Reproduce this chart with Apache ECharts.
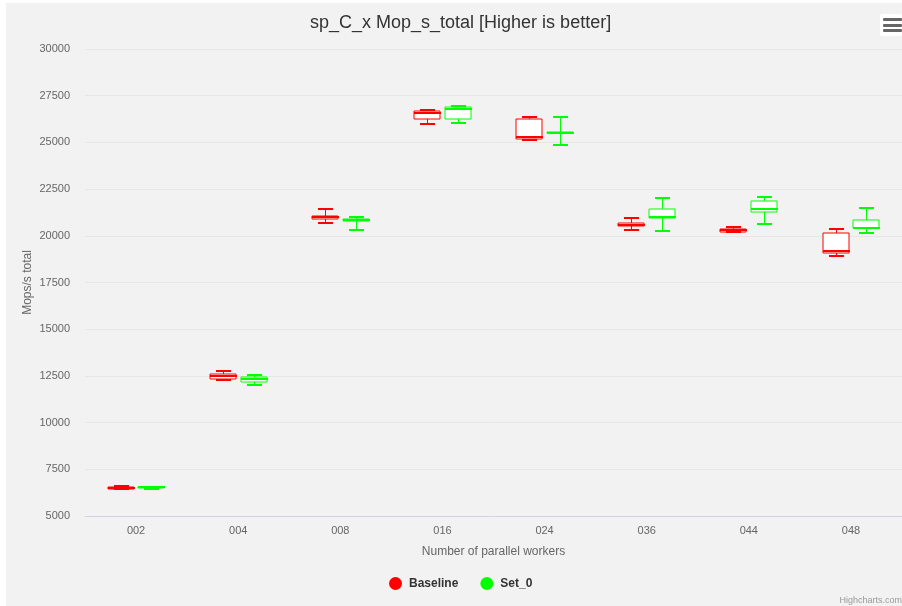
<!DOCTYPE html>
<html>
<head>
<meta charset="utf-8">
<script src="https://cdn.jsdelivr.net/npm/echarts@6/dist/echarts.min.js"></script>
<style>
html,body{margin:0;padding:0;background:#ffffff;}
#bg{position:absolute;left:6px;top:3px;width:896px;height:603px;background:#f2f2f2;}
#chart{position:absolute;left:0;top:0;width:902px;height:606px;}
</style>
</head>
<body>
<div id="bg"></div>
<div id="chart"></div>
<script>
// Data: [min, q1, median, q3, max]
const categories = ['002', '004', '008', '016', '024', '036', '044', '048'];
const baseline = [
  [6430, 6445, 6483, 6526, 6590],
  [12280, 12350, 12495, 12618, 12762],
  [20685, 20915, 20990, 21044, 21451],
  [25985, 26232, 26589, 26696, 26750],
  [25111, 25165, 25289, 26268, 26360],
  [20310, 20508, 20600, 20705, 20970],
  [20180, 20200, 20310, 20350, 20490],
  [18900, 19080, 19186, 20130, 20364]
];
const set0 = [
  [6456, 6499, 6536, 6563, 6570],
  [12030, 12157, 12334, 12441, 12548],
  [20310, 20777, 20830, 20884, 21010],
  [26039, 26232, 26788, 26911, 26964],
  [24861, 25486, 25520, 25556, 26375],
  [20257, 20940, 20990, 21420, 22040],
  [20650, 21260, 21435, 21845, 22094],
  [20150, 20400, 20436, 20830, 21506]
];
const yTicks = [5000, 30000, 2500]; // min, max, interval

const FONT = "'Liberation Sans', Arial, Helvetica, sans-serif";

function makeRender(color, offsetFrac) {
  return function (params, api) {
    const cat = api.value(0);
    const band = api.size([1, 0])[0];
    const cx = Math.round(api.coord([cat, 0])[0] + offsetFrac * band);
    const w = Math.round(band * 0.254);
    const hw = Math.round(w / 4);
    const y = function (i) { return Math.round(api.coord([cat, api.value(i)])[1]); };
    const yMin = y(1), yQ1 = y(2), yMed = y(3), yQ3 = y(4), yMax = y(5);
    const x0 = cx - Math.round(w / 2);
    const sx = cx + 0.5;
    return {
      type: 'group',
      children: [
        { type: 'line', shape: { x1: sx, y1: yMax, x2: sx, y2: yQ3 }, style: { stroke: color, lineWidth: 1 } },
        { type: 'line', shape: { x1: sx, y1: yQ1, x2: sx, y2: yMin }, style: { stroke: color, lineWidth: 1 } },
        { type: 'rect', shape: { x: x0, y: yQ3, width: w, height: Math.max(yQ1 - yQ3, 1) },
          style: { fill: '#ffffff', stroke: color, lineWidth: 1 } },
        { type: 'line', shape: { x1: x0, y1: yMed, x2: x0 + w + 1, y2: yMed }, style: { stroke: color, lineWidth: 2 } },
        { type: 'line', shape: { x1: cx - hw, y1: yMax, x2: cx + hw + 1, y2: yMax }, style: { stroke: color, lineWidth: 2 } },
        { type: 'line', shape: { x1: cx - hw, y1: yMin, x2: cx + hw + 1, y2: yMin }, style: { stroke: color, lineWidth: 2 } }
      ]
    };
  };
}

function toData(arr) {
  return arr.map(function (d, i) { return [i].concat(d); });
}

const chart = echarts.init(document.getElementById('chart'));
chart.setOption({
  animation: false,
  textStyle: { fontFamily: FONT },
  title: {
    text: 'sp_C_x Mop_s_total [Higher is better]',
    left: 305, top: 9,
    textStyle: { fontSize: 18, fontWeight: 'normal', color: '#333333', fontFamily: FONT }
  },
  legend: {
    data: ['Baseline', 'Set_0'],
    left: 384, top: 572,
    icon: 'circle', itemWidth: 13, itemHeight: 13, itemGap: 22,
    textStyle: { fontSize: 12, fontWeight: 'bold', color: '#333333', fontFamily: FONT, padding: [0, 0, 0, 2] }
  },
  grid: { left: 85, top: 49, width: 819, height: 467, containLabel: false },
  xAxis: {
    type: 'category',
    data: categories,
    boundaryGap: true,
    name: 'Number of parallel workers',
    nameLocation: 'middle',
    nameGap: 30,
    nameMoveOverlap: false,
    nameTextStyle: { fontSize: 12, color: '#666666', fontFamily: FONT },
    axisLine: { lineStyle: { color: '#ccd6eb', width: 1 } },
    axisTick: { length: 10, lineStyle: { color: '#ccd6eb' } },
    axisLabel: { fontSize: 11, color: '#666666', margin: 9, fontFamily: FONT },
    splitLine: { show: false }
  },
  yAxis: {
    type: 'value',
    min: yTicks[0], max: yTicks[1], interval: yTicks[2],
    name: 'Mops/s total',
    nameLocation: 'middle',
    nameGap: 51,
    nameMoveOverlap: false,
    nameTextStyle: { fontSize: 12, color: '#666666', fontFamily: FONT },
    axisLine: { show: false },
    axisTick: { show: false },
    axisLabel: { fontSize: 11, color: '#666666', margin: 15, fontFamily: FONT,
      formatter: function (v) { return String(v); } },
    splitLine: { lineStyle: { color: '#e6e6e6', width: 1 } }
  },
  series: [
    {
      name: 'Baseline', type: 'custom',
      itemStyle: { color: '#ff0000' },
      renderItem: makeRender('#ff0000', -0.151),
      encode: { x: 0, y: [1, 2, 3, 4, 5] },
      data: toData(baseline)
    },
    {
      name: 'Set_0', type: 'custom',
      itemStyle: { color: '#00ff00' },
      renderItem: makeRender('#00ff00', 0.151),
      encode: { x: 0, y: [1, 2, 3, 4, 5] },
      data: toData(set0)
    }
  ],
  graphic: [
    {
      type: 'group', right: 0, top: 14,
      children: [
        { type: 'rect', shape: { x: 0, y: 0, width: 22, height: 22, r: 2 }, style: { fill: '#ffffff' } },
        { type: 'rect', shape: { x: 3, y: 4, width: 19, height: 3, r: 1 }, style: { fill: '#666666' } },
        { type: 'rect', shape: { x: 3, y: 10, width: 19, height: 3, r: 1 }, style: { fill: '#666666' } },
        { type: 'rect', shape: { x: 3, y: 15, width: 19, height: 3, r: 1 }, style: { fill: '#666666' } }
      ]
    },
    {
      type: 'text', right: 0, bottom: 1,
      style: { text: 'Highcharts.com', fill: '#999999', font: '9px ' + FONT }
    }
  ]
});
</script>
</body>
</html>
